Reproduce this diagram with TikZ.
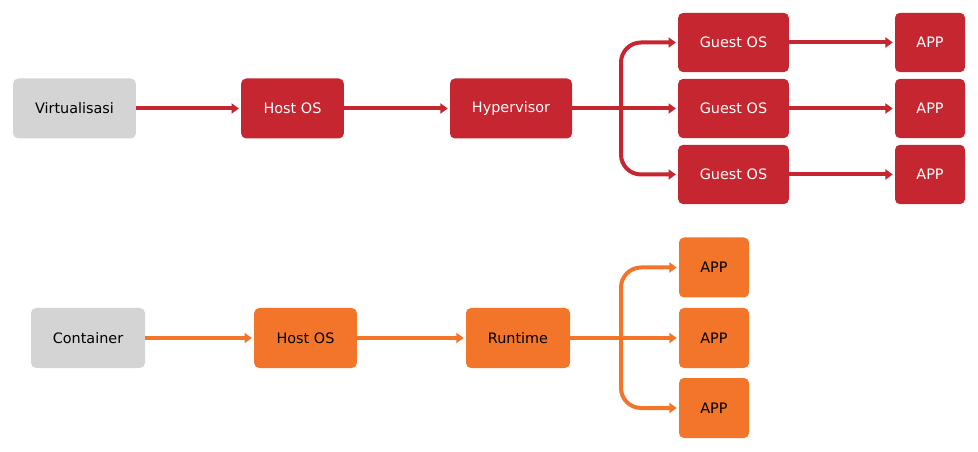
\documentclass[tikz,border=0pt]{standalone}
\usepackage{fontspec}
\setmainfont{DejaVu Sans}
\usetikzlibrary{arrows.meta,positioning}
\definecolor{virtred}{RGB}{197,38,48}
\definecolor{contorange}{RGB}{243,117,41}
\definecolor{labelgrey}{RGB}{212,212,212}

\begin{document}
\begin{tikzpicture}[x=0.75pt, y=-0.75pt, >={Triangle[length=5.5pt,width=7.5pt]},
    box/.style={rounded corners=3.75pt, minimum height=45pt, inner sep=0pt,
        font=\fontsize{10.8}{13}\selectfont},
    greybox/.style={box, fill=labelgrey, text=black},
    redbox/.style={box, fill=virtred, text=white},
    orangebox/.style={box, fill=contorange, text=black},
    redflow/.style={->, line width=3pt, shorten >=1.5pt, virtred},
    orangeflow/.style={->, line width=3pt, shorten >=1.5pt, contorange}]
    \useasboundingbox (0,0) rectangle (978,452);

    % Virtualisation row
    \node[greybox, minimum width=92pt] (virt) at (74.5,108.5) {Virtualisasi};
    \node[redbox, minimum width=77pt] (vhost) at (292.5,108.5) {Host OS};
    \node[redbox, minimum width=91.5pt] (hyper) at (511,108.5) {Hypervisor};
    \node[redbox, minimum width=83pt, minimum height=44.5pt] (guesta) at (733.5,42.5) {Guest OS};
    \node[redbox, minimum width=83pt, minimum height=44.5pt] (guestb) at (733.5,108.5) {Guest OS};
    \node[redbox, minimum width=83pt, minimum height=44.5pt] (guestc) at (733.5,174.5) {Guest OS};
    \node[redbox, minimum width=52.5pt, minimum height=44.5pt] (vappa) at (930,42.5) {APP};
    \node[redbox, minimum width=52.5pt, minimum height=44.5pt] (vappb) at (930,108.5) {APP};
    \node[redbox, minimum width=52.5pt, minimum height=44.5pt] (vappc) at (930,174.5) {APP};
    \coordinate (vsplit) at (621,108.5);

    \draw[redflow] (virt) -- (vhost);
    \draw[redflow] (vhost) -- (hyper);
    \draw[redflow] (hyper) -- (guestb);
    \draw[redflow, rounded corners=15pt] (vsplit) |- (guesta);
    \draw[redflow, rounded corners=15pt] (vsplit) |- (guestc);
    \draw[redflow] (guesta) -- (vappa);
    \draw[redflow] (guestb) -- (vappb);
    \draw[redflow] (guestc) -- (vappc);

    % Container row
    \node[greybox, minimum width=85.5pt] (cont) at (88,338) {Container};
    \node[orangebox, minimum width=77pt] (chost) at (305.5,338) {Host OS};
    \node[orangebox, minimum width=78pt] (runtime) at (518,338) {Runtime};
    \node[orangebox, minimum width=52.5pt] (cappa) at (714,267.5) {APP};
    \node[orangebox, minimum width=52.5pt] (cappb) at (714,338) {APP};
    \node[orangebox, minimum width=52.5pt] (cappc) at (714,408) {APP};
    \coordinate (csplit) at (621,338);

    \draw[orangeflow] (cont) -- (chost);
    \draw[orangeflow] (chost) -- (runtime);
    \draw[orangeflow] (runtime) -- (cappb);
    \draw[orangeflow, rounded corners=15pt] (csplit) |- (cappa);
    \draw[orangeflow, rounded corners=15pt] (csplit) |- (cappc);

\end{tikzpicture}
\end{document}
